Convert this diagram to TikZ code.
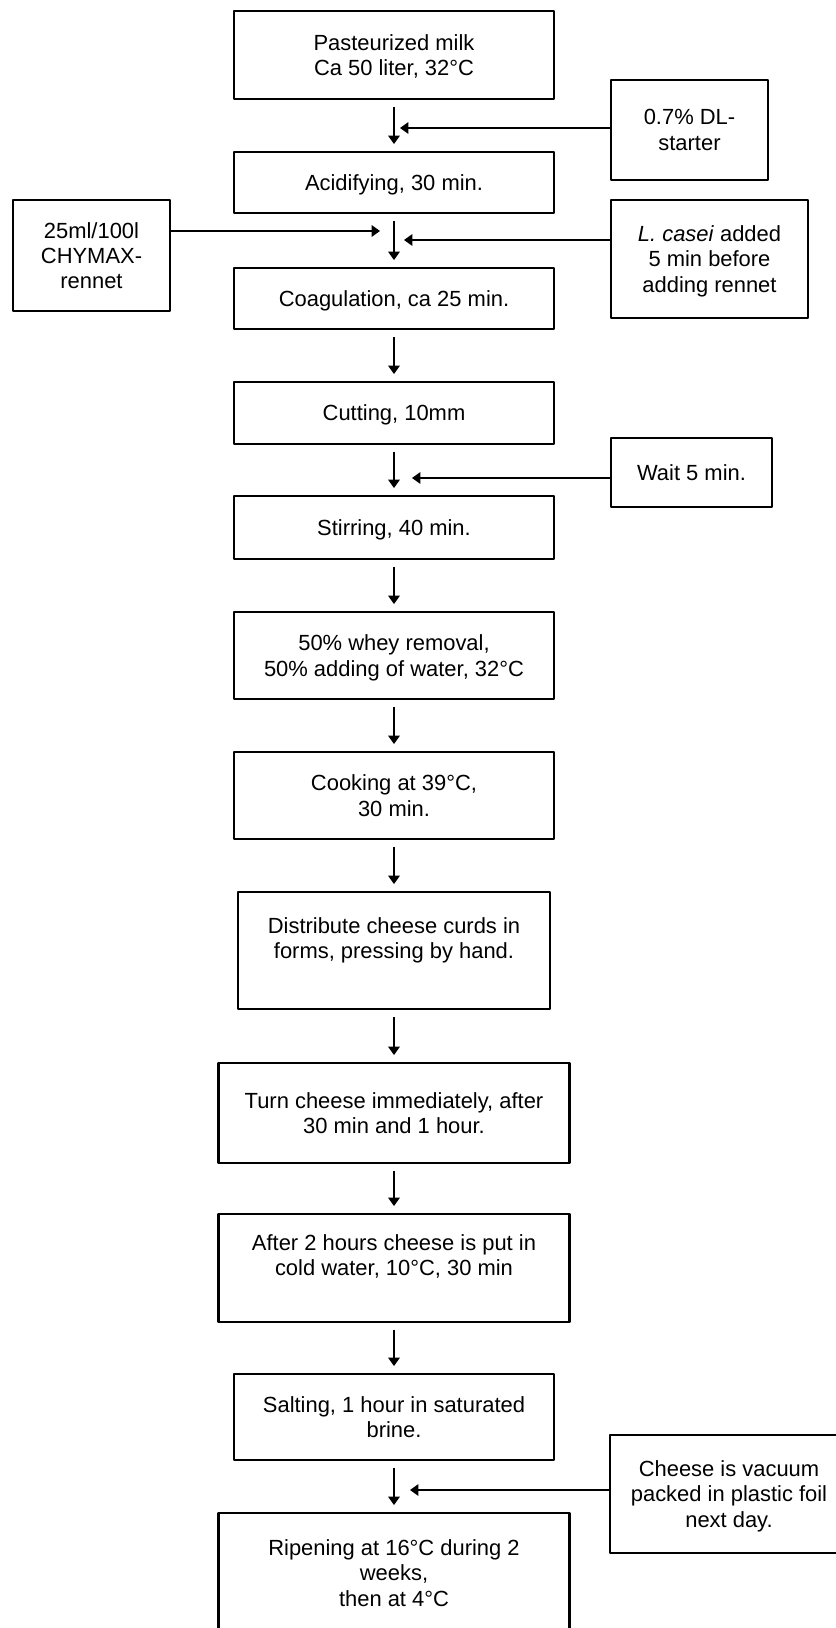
\documentclass[tikz,border=0pt]{standalone}
\usepackage{fontspec}
\setmainfont{Liberation Sans}
\usetikzlibrary{arrows.meta}

\begin{document}
\begin{tikzpicture}[line join=round,
  font=\fontsize{15.6}{18.1}\selectfont,
  >={Triangle[length=0.21cm,width=0.29cm]},
  box/.style={draw, line width=1.65pt, align=center, inner sep=2pt, text depth=0pt},
  flow/.style={->, line width=1pt, shorten <=0.17cm, shorten >=0.17cm},
  feed/.style={->, line width=1pt}]
\useasboundingbox (0,0) rectangle (20.9,-40.7);
\clip (0,0) rectangle (20.9,-40.7);
% main steps
\node[box, minimum width=8cm, minimum height=2.2cm] (milk) at (9.85,-1.375) {Pasteurized milk\\Ca 50 liter, 32°C};
\node[box, minimum width=8cm, minimum height=1.525cm] (acid) at (9.85,-4.5625) {Acidifying, 30 min.};
\node[box, minimum width=8cm, minimum height=1.525cm] (coag) at (9.85,-7.4625) {Coagulation, ca 25 min.};
\node[box, minimum width=8cm, minimum height=1.55cm] (cut) at (9.85,-10.325) {Cutting, 10mm};
\node[box, minimum width=8cm, minimum height=1.575cm] (stir) at (9.85,-13.1875) {Stirring, 40 min.};
\node[box, minimum width=8cm, minimum height=2.175cm] (whey) at (9.85,-16.3875) {50\% whey removal,\\50\% adding of water, 32°C};
\node[box, minimum width=8cm, minimum height=2.175cm] (cook) at (9.85,-19.8875) {Cooking at 39°C,\\30 min.};
\node[box, minimum width=7.8cm, minimum height=2.925cm] (form) at (9.85,-23.7625) {Distribute cheese curds in\\forms, pressing by hand.\\ \mbox{}};
\node[box, minimum width=8.775cm, minimum height=2.5cm] (turn) at (9.85,-27.825) {Turn cheese immediately, after\\30 min and 1 hour.};
\node[box, minimum width=8.775cm, minimum height=2.7cm] (cold) at (9.85,-31.7) {After 2 hours cheese is put in\\cold water, 10°C, 30 min\\ \mbox{}};
\node[box, minimum width=8cm, minimum height=2.15cm] (salt) at (9.85,-35.425) {Salting, 1 hour in saturated\\brine.};
\node[box, minimum width=8.775cm, minimum height=3cm] (ripen) at (9.85,-39.325) {Ripening at 16°C during 2\\weeks,\\then at 4°C};
% additions
\node[box, minimum width=3.925cm, minimum height=2.5cm] (starter) at (17.2375,-3.25) {0.7\% DL-\\starter};
\node[box, minimum width=3.925cm, minimum height=2.775cm] (rennet) at (2.2875,-6.3875) {25ml/100l\\CHYMAX-\\rennet};
\node[box, minimum width=4.925cm, minimum height=2.95cm] (casei) at (17.7375,-6.475) {\textit{L. casei} added\\5 min before\\adding rennet};
\node[box, minimum width=4.025cm, minimum height=1.725cm] (wait) at (17.2875,-11.8125) {Wait 5 min.};
\node[box, minimum width=5.95cm, minimum height=2.95cm] (vacuum) at (18.225,-37.35) {Cheese is vacuum\\packed in plastic foil\\next day.};
\coordinate (P1) at (10.0,-3.2);
\coordinate (P2) at (9.5,-5.775);
\coordinate (P3) at (10.1,-6.0);
\coordinate (P4) at (10.3,-11.95);
\coordinate (P5) at (10.25,-37.25);
% arrows
\draw[flow] (milk) -- (acid);
\draw[flow] (acid) -- (coag);
\draw[flow] (coag) -- (cut);
\draw[flow] (cut) -- (stir);
\draw[flow] (stir) -- (whey);
\draw[flow] (whey) -- (cook);
\draw[flow] (cook) -- (form);
\draw[flow] (form) -- (turn);
\draw[flow] (turn) -- (cold);
\draw[flow] (cold) -- (salt);
\draw[flow] (salt) -- (ripen);
\draw[feed] (starter.west |- P1) -- (P1);
\draw[feed] (rennet.east |- P2) -- (P2);
\draw[feed] (casei.west |- P3) -- (P3);
\draw[feed] (wait.west |- P4) -- (P4);
\draw[feed] (vacuum.west |- P5) -- (P5);
\end{tikzpicture}
\end{document}
